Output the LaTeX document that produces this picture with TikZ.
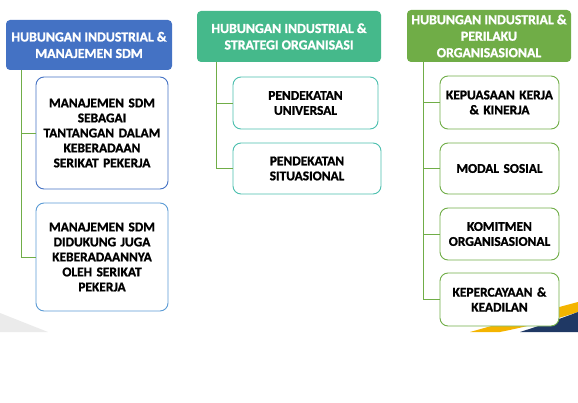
\documentclass[tikz,border=0pt]{standalone}
\usepackage{fontspec}
\setmainfont{Carlito}
\newfontfamily\heavyfont[FakeBold=1.2]{Carlito}
\usepackage{xcolor}
\definecolor{hiBlue}{HTML}{4472C4}
\definecolor{hiSky}{HTML}{5B9BD5}
\definecolor{hiTeal}{HTML}{45B98B}
\definecolor{hiCyan}{HTML}{4BBFAE}
\definecolor{hiGreen}{HTML}{70AD47}
\definecolor{hiNavy}{HTML}{1F3864}
\definecolor{hiGold}{HTML}{F4B400}

\begin{document}
\begin{tikzpicture}[x=1pt,y=-1pt,
    header/.style={rounded corners=4pt, text=white, font=\heavyfont\bfseries\fontsize{13.8}{16.5}\selectfont,
      align=center, inner sep=2pt},
    topic/.style={draw, line width=0.9pt, rounded corners=8pt, fill=white, text=black,
      font=\heavyfont\bfseries\fontsize{13.4}{15}\selectfont, align=center, inner sep=2pt},
    link/.style={hiGreen, line width=0.9pt}]
  \useasboundingbox (0,0) rectangle (578,403);
  % background swooshes
  \fill[black!8] (0,313) -- (48,332) -- (0,332) -- cycle;
  \fill[hiGold] (470,332) .. controls (520,318) and (555,308) .. (578,302) -- (578,312) .. controls (560,318) and (530,326) .. (500,332) -- cycle;
  \fill[hiNavy] (520,332) .. controls (545,324) and (565,317) .. (578,312) -- (578,332) -- cycle;

  % column 1
  \node[header, fill=hiBlue, minimum width=166pt, minimum height=50pt] (h1) at (89,45)
    {HUBUNGAN INDUSTRIAL \&\\MANAJEMEN SDM};
  \node[topic, draw=hiBlue, minimum width=132pt, minimum height=112pt, text width=128pt] (c11) at (102,133)
    {MANAJEMEN SDM\\SEBAGAI\\TANTANGAN DALAM\\KEBERADAAN\\SERIKAT PEKERJA};
  \node[topic, draw=hiSky, minimum width=132pt, minimum height=108pt, text width=128pt] (c12) at (102,257)
    {MANAJEMEN SDM\\DIDUKUNG JUGA\\KEBERADAANNYA\\OLEH SERIKAT\\PEKERJA};

  % column 2
  \node[header, fill=hiTeal, minimum width=184pt, minimum height=51pt] (h2) at (289,36.5)
    {HUBUNGAN INDUSTRIAL \&\\STRATEGI ORGANISASI};
  \node[topic, draw=hiCyan, minimum width=145pt, minimum height=52pt, text width=137pt] (c21) at (305.5,103)
    {PENDEKATAN\\UNIVERSAL};
  \node[topic, draw=hiCyan, minimum width=148pt, minimum height=51pt, text width=140pt] (c22) at (307,168.5)
    {PENDEKATAN\\SITUASIONAL};

  % column 3
  \node[header, fill=hiGreen, minimum width=164pt, minimum height=52pt] (h3) at (489,36)
    {HUBUNGAN INDUSTRIAL \&\\PERILAKU\\ORGANISASIONAL};
  \node[topic, draw=hiGreen, minimum width=119pt, minimum height=53pt, text width=115pt] (c31) at (499.5,102.5)
    {KEPUASAAN KERJA\\\& KINERJA};
  \node[topic, draw=hiGreen, minimum width=119pt, minimum height=51pt, text width=115pt] (c32) at (499.5,168.5)
    {MODAL SOSIAL};
  \node[topic, draw=hiGreen, minimum width=119pt, minimum height=52pt, text width=115pt] (c33) at (499.5,234)
    {KOMITMEN\\ORGANISASIONAL};
  \node[topic, draw=hiGreen, minimum width=119pt, minimum height=53pt, text width=115pt] (c34) at (499.5,299.5)
    {KEPERCAYAAN \&\\KEADILAN};

  % connectors
  \coordinate (r1) at (h1.south -| 21,0);
  \coordinate (r2) at (h2.south -| 216,0);
  \coordinate (r3) at (h3.south -| 423,0);
  \draw[link] (r1) |- (c11.west);
  \draw[link] (r1) |- (c12.west);
  \draw[link] (r2) |- (c21.west);
  \draw[link] (r2) |- (c22.west);
  \foreach \k in {1,...,4}{
    \draw[link] (r3) |- (c3\k.west);
  }
\end{tikzpicture}
\end{document}
